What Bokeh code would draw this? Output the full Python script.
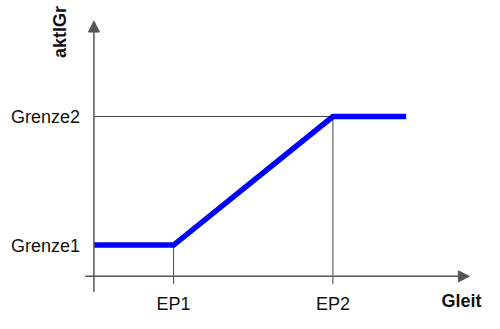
from bokeh.plotting import figure
from bokeh.models import Range1d, Arrow, NormalHead
from bokeh.core.properties import value
from bokeh.embed import file_html
from bokeh.resources import INLINE

# ---- data ----
ep_x = [1, 2]
ep_labels = ["EP1", "EP2"]
grenze_y = [1, 2]
grenze_labels = ["Grenze1", "Grenze2"]
curve_x = [0.5, 1, 2, 2.46]
curve_y = [1, 1, 2, 2]
x_title = "Gleit"
y_title = "aktIGr"

# ---- layout constants (data units) ----
Y_AXIS_X = 0.5
X_AXIS_Y = 0.757
X_AXIS_START, X_AXIS_END = 0.445, 2.857
Y_AXIS_START, Y_AXIS_END = 0.635, 2.742
DROP_BOTTOM = 0.696

FONT = value("Liberation Sans")
AXIS_COLOR = "#555555"
THIN_COLOR = "#444444"
FS = "18px"

p = figure(width=484, height=313, output_backend="svg", toolbar_location=None,
           x_axis_type=None, y_axis_type=None, min_border=0,
           x_range=Range1d(-0.0866, 2.9517), y_range=Range1d(0.4681, 2.902))
p.outline_line_color = None
p.background_fill_color = "white"
p.border_fill_color = "white"

# guide lines: Grenze2 horizontal and EP verticals
p.segment(x0=[Y_AXIS_X], y0=[grenze_y[1]], x1=[ep_x[1]], y1=[grenze_y[1]],
          line_color=THIN_COLOR, line_width=1)
p.segment(x0=ep_x, y0=[grenze_y[0], grenze_y[1]], x1=ep_x, y1=[DROP_BOTTOM] * 2,
          line_color=THIN_COLOR, line_width=1)

# axes with arrow heads
p.add_layout(Arrow(end=NormalHead(size=11, fill_color=AXIS_COLOR, line_color=AXIS_COLOR),
                   x_start=Y_AXIS_X, y_start=Y_AXIS_START, x_end=Y_AXIS_X, y_end=Y_AXIS_END,
                   line_color=AXIS_COLOR, line_width=1.5))
p.add_layout(Arrow(end=NormalHead(size=11, fill_color=AXIS_COLOR, line_color=AXIS_COLOR),
                   x_start=X_AXIS_START, y_start=X_AXIS_Y, x_end=X_AXIS_END, y_end=X_AXIS_Y,
                   line_color=AXIS_COLOR, line_width=1.5))

# the curve
p.line(curve_x, curve_y, line_color="#0000FF", line_width=5.5, line_join="miter")

# labels
p.text(x=[Y_AXIS_X] * 2, y=grenze_y, text=grenze_labels, x_offset=-14, y_offset=1,
       text_align="right", text_baseline="middle", text_font=FONT,
       text_font_size=FS, text_color="#111111")
p.text(x=ep_x, y=[X_AXIS_Y] * 2, text=ep_labels, y_offset=28,
       text_align="center", text_baseline="alphabetic", text_font=FONT,
       text_font_size=FS, text_color="#111111")
p.text(x=[X_AXIS_END], y=[X_AXIS_Y], text=[x_title], x_offset=-8, y_offset=25,
       text_align="center", text_baseline="alphabetic", text_font=FONT,
       text_font_size=FS, text_font_style="bold", text_color="#111111")
p.text(x=[Y_AXIS_X], y=[Y_AXIS_END], text=[y_title], x_offset=-34, y_offset=11,
       angle=1.5708, text_align="center", text_baseline="middle", text_font=FONT,
       text_font_size=FS, text_font_style="bold", text_color="#111111")

open("out.html", "w").write(file_html(p, INLINE))
